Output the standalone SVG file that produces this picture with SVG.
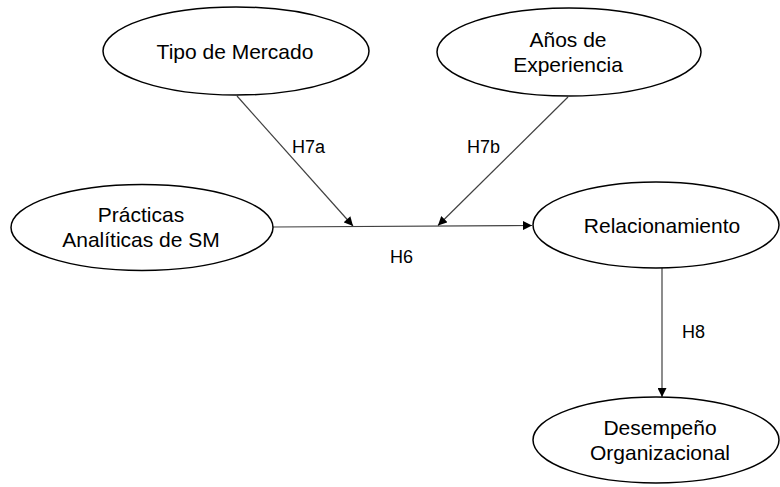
<svg xmlns="http://www.w3.org/2000/svg" width="780" height="487" viewBox="0 0 780 487">
  <style>
    .node ellipse { fill: #ffffff; stroke: #000000; stroke-width: 1.5; }
    .node text { font-family: "Liberation Sans", Arial, sans-serif; font-size: 21px; fill: #000000; text-anchor: middle; }
    .edge { stroke: #404040; stroke-width: 1.2; fill: none; }
    .label { font-family: "Liberation Sans", Arial, sans-serif; font-size: 18px; fill: #000000; }
  </style>
  <defs>
    <marker id="arrow" viewBox="0 0 10 10" refX="10" refY="5" markerWidth="10" markerHeight="9" markerUnits="userSpaceOnUse" orient="auto">
      <path d="M0,0 L10,5 L0,10 Z" fill="#000000"/>
    </marker>
  </defs>
  <rect width="780" height="487" fill="#ffffff"/>

  <g id="connectors">
    <line class="edge" x1="273" y1="227" x2="532" y2="225.5" marker-end="url(#arrow)"/>
    <line class="edge" x1="237" y1="96" x2="353" y2="226" marker-end="url(#arrow)"/>
    <line class="edge" x1="568" y1="97" x2="438" y2="225.5" marker-end="url(#arrow)"/>
    <line class="edge" x1="662" y1="268" x2="662" y2="397" marker-end="url(#arrow)"/>
    <text class="label" x="292" y="153">H7a</text>
    <text class="label" x="467" y="153">H7b</text>
    <text class="label" x="390" y="263">H6</text>
    <text class="label" x="682" y="338">H8</text>
  </g>

  <g id="tipo-mercado" class="node">
    <ellipse cx="236" cy="51" rx="133" ry="44"/>
    <text x="235" y="59">Tipo de Mercado</text>
  </g>
  <g id="anos-experiencia" class="node">
    <ellipse cx="569" cy="52" rx="132" ry="44"/>
    <text x="568" y="47">Años de</text>
    <text x="568" y="72">Experiencia</text>
  </g>
  <g id="practicas-analiticas" class="node">
    <ellipse cx="142" cy="227.5" rx="131" ry="43"/>
    <text x="141" y="222">Prácticas</text>
    <text x="141" y="247">Analíticas de SM</text>
  </g>
  <g id="relacionamiento" class="node">
    <ellipse cx="656" cy="225" rx="123" ry="43"/>
    <text x="662" y="233">Relacionamiento</text>
  </g>
  <g id="desempeno-organizacional" class="node">
    <ellipse cx="656" cy="440" rx="123" ry="43"/>
    <text x="660" y="435">Desempeño</text>
    <text x="660" y="460">Organizacional</text>
  </g>
</svg>
